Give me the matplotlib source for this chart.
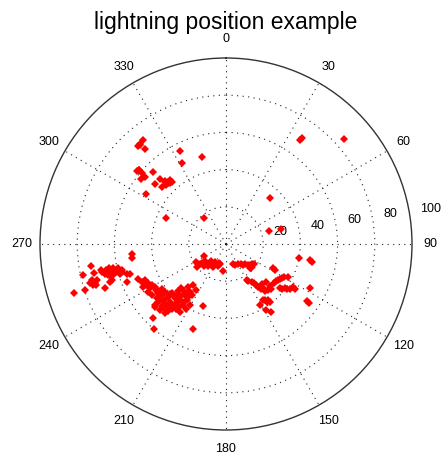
import numpy as np
import matplotlib
matplotlib.use('Agg')
import matplotlib.pyplot as plt

# lightning strike positions relative to the station (east, north)
east = [-44.6, -47.3, -46.2, -43.5, -24.7, -12.9, -23.7, -47.8, -46.8, -39.2,
        -45.7, -43.5, -35.5, -32.8, -30.1, -31.2, -34.4, -32.3, -29.0, -38.2,
        -43.0, -32.3, -11.8, -33.0, -31.0, -30.0, -46.0, -45.0, -47.0,
        39.8, 40.9, 63.4, 23.7, 29.6, 23.1,
        -11.8, -16.1, -14.0, -11.3, -8.6, -5.9, -3.2, -9.7, -7.0, -4.3,
        -1.6, -15.6, -13.0, -10.0, -6.0, -4.0, -8.0, -12.0, -15.0,
        3.8, 6.5, 9.1, 11.8, 14.0, 12.9, 25.3, 26.3, 39.2, 46.2, 45.2,
        5.0, 8.0, 10.0, 13.0, 15.0, 13.5,
        11.3, 14.0, 16.1, 18.3, 20.4, 22.6, 19.4, 23.7, 21.5, 28.0,
        30.1, 33.3, 31.7, 34.4, 37.1, 29.0, 45.2, 22.6, 19.9, 23.7,
        18.3, 21.5, 24.2, 44.6, 43.5, -12.4,
        12.0, 15.0, 17.0, 19.0, 21.0, 24.0, 26.0, 27.0, 29.0, 31.0,
        33.0, 36.0, 30.0, 22.0, 21.0,
        -50.5, -50.5, -72.6, -76.9, -71.0, -66.7, -64.5, -62.4, -60.8, -59.1,
        -57.0, -63.4, -55.9, -51.6, -53.2, -72.0, -70.4, -69.4, -71.5, -62.4,
        -61.3, -53.2, -65.1, -75.8, -81.7,
        -65.0, -63.0, -58.0, -56.0, -60.0, -67.0, -62.0, -73.0, -70.0,
        -47.3, -45.2, -43.0, -40.9, -44.6, -41.9, -39.8, -37.6, -36.6, -34.4,
        -35.5, -32.8, -31.2, -29.0, -27.4, -25.8, -24.2, -22.6, -20.4, -17.7,
        -19.4, -21.5, -24.7, -30.1, -33.3, -36.6, -34.4, -31.2, -26.9, -22.6,
        -19.4, -29.0, -32.8, -35.5, -24.7, -21.5, -38.2, -39.2, -38.7, -17.7,
        -18.3, -16.1, -43.5,
        -42.0, -40.0, -38.0, -36.0, -34.0, -30.0, -28.0, -26.0, -24.0, -22.0,
        -20.0, -26.0, -28.0, -30.0, -33.0, -35.0, -37.0, -23.0, -21.0, -20.0,
        -25.0, -27.0, -31.0, -33.0, -38.0]
north = [55.9, 52.7, 53.8, 51.1, 50.0, 46.8, 43.5, 39.2, 39.8, 38.7,
         34.9, 36.0, 34.9, 33.3, 34.4, 32.8, 30.6, 31.7, 33.3, 32.3,
         26.9, 14.0, 14.0, 34.0, 33.5, 33.0, 53.0, 38.0, 40.0,
         55.9, 57.0, 56.5, 24.7, 8.1, 7.0,
         -6.5, -9.7, -10.8, -9.1, -10.2, -9.7, -10.8, -11.8, -12.4, -11.8,
         -14.5, -12.4, -10.0, -11.0, -11.0, -10.0, -9.0, -12.0, -11.0,
         -10.8, -10.8, -11.3, -11.3, -10.8, -12.9, -12.9, -14.0, -7.5, -9.7, -8.6,
         -11.5, -10.5, -10.5, -11.5, -11.0, -13.0,
         -19.4, -20.4, -22.0, -23.1, -24.2, -24.7, -21.5, -22.6, -20.4, -19.4,
         -18.3, -17.7, -23.7, -24.2, -24.2, -23.7, -23.7, -30.1, -30.1, -31.2,
         -32.8, -35.5, -36.6, -31.7, -30.6, -33.3,
         -20.0, -21.0, -23.0, -24.0, -25.0, -24.0, -21.0, -20.0, -19.0, -18.0,
         -24.0, -23.0, -24.0, -31.0, -30.0,
         -5.4, -7.5, -11.8, -16.7, -15.6, -15.1, -14.0, -14.5, -12.9, -15.1,
         -16.1, -16.7, -15.1, -16.1, -16.1, -19.4, -21.0, -19.4, -22.0, -20.4,
         -19.4, -20.4, -23.7, -24.7, -26.3,
         -16.0, -13.0, -13.0, -14.0, -16.0, -14.0, -17.0, -21.0, -22.0,
         -18.8, -20.4, -22.0, -23.7, -23.1, -25.8, -27.4, -24.7, -26.3, -24.2,
         -28.0, -25.8, -28.5, -26.3, -29.0, -25.3, -23.7, -25.3, -23.1, -22.0,
         -25.8, -28.0, -30.1, -31.2, -30.1, -31.2, -33.3, -32.8, -32.3, -31.2,
         -32.8, -34.9, -34.9, -35.5, -36.6, -34.9, -32.8, -39.8, -45.7, -45.7,
         -27.4, -24.7, -19.4,
         -21.0, -22.0, -23.0, -25.0, -27.0, -27.0, -28.0, -27.0, -28.0, -27.0,
         -26.0, -31.0, -33.0, -33.0, -32.0, -30.0, -29.0, -33.0, -30.0, -28.0,
         -34.0, -35.0, -36.0, -37.0, -34.0]

angle_labels = [0, 30, 60, 90, 120, 150, 180, 210, 240, 270, 300, 330]
ring_values = [20, 40, 60, 80, 100]

east = np.array(east)
north = np.array(north)
theta = np.arctan2(east, north)
r = np.hypot(east, north)

plt.rcParams['font.family'] = ['Liberation Sans', 'DejaVu Sans']

fig = plt.figure(figsize=(4.43, 4.59), dpi=100)
ax = fig.add_axes([40 / 443, 29 / 459, 372 / 443, 372 / 459], projection='polar')
ax.set_theta_zero_location('N')
ax.set_theta_direction(-1)
ax.set_ylim(0, 100)

ax.set_thetagrids(angle_labels, labels=[''] * len(angle_labels))
ax.set_rgrids(ring_values[:-1], labels=[''] * (len(ring_values) - 1))
ax.grid(True, color='#222222', linestyle=(0, (1, 4)), linewidth=0.8)
ax.spines['polar'].set_color('#333333')
ax.spines['polar'].set_linewidth(1.0)
ax.tick_params(length=0)

ax.plot(theta, r, 'D', color='red', markersize=4.3, markeredgewidth=0, zorder=5)

# angle labels outside the circle
for a in angle_labels:
    ax.text(np.deg2rad(a), 110, str(a), ha='center', va='center',
            fontsize=9, clip_on=False)

# ring labels
for v in ring_values:
    ax.annotate(str(v), xy=(np.deg2rad(81), v + 1), xytext=(9, 0),
                textcoords='offset pixels', ha='left', va='bottom',
                fontsize=9, annotation_clip=False)

fig.text(226 / 443, 1 - 22 / 459, 'lightning position example',
         ha='center', va='center', fontsize=16.5)

fig.savefig('out.png', dpi=100, facecolor='white')
